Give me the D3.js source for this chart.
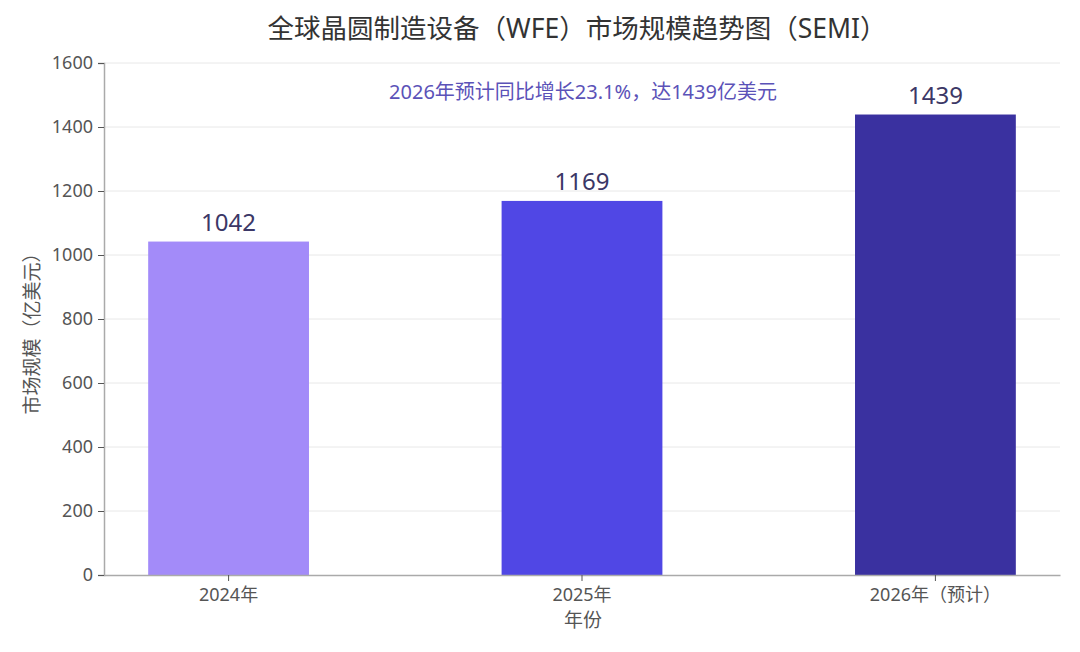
<!DOCTYPE html>
<html>
<head>
<meta charset="utf-8">
<script src="https://cdn.jsdelivr.net/npm/d3@7"></script>
<style>
  body { margin: 0; background: #fff; }
  text { font-family: "Noto Sans", "Noto Sans CJK SC", sans-serif; }
</style>
</head>
<body>
<script>
// chart data
const years = ['2024年', '2025年', '2026年（预计）'];
const values = [1042, 1169, 1439];
const barColors = ['#a38bf9', '#5047e5', '#3a31a0'];
const yTicks = [0, 200, 400, 600, 800, 1000, 1200, 1400, 1600];

const width = 1080, height = 652;
const plotLeft = 104, plotRight = 1060, plotTop = 63, plotBottom = 575;

const svg = d3.select('body')
              .append('svg')
              .attr('width', width)
              .attr('height', height);

const x = d3.scaleBand()
            .domain(years)
            .range([plotLeft, plotRight])
            .paddingInner(0.545)
            .paddingOuter(0.125);

const y = d3.scaleLinear()
            .domain([0, 1600])
            .range([plotBottom, plotTop]);

// grid lines
svg.append('g')
   .selectAll('line')
   .data(yTicks.slice(1))
   .enter()
   .append('line')
   .attr('x1', plotLeft)
   .attr('x2', plotRight)
   .attr('y1', d => y(d))
   .attr('y2', d => y(d))
   .attr('stroke', '#e8e8e8')
   .attr('stroke-width', 1);

// bars
svg.selectAll('rect.bar')
   .data(values)
   .enter()
   .append('rect')
   .attr('class', 'bar')
   .attr('x', (d, i) => x(years[i]))
   .attr('y', d => y(d))
   .attr('width', x.bandwidth())
   .attr('height', d => plotBottom - y(d))
   .attr('fill', (d, i) => barColors[i]);

// value labels
svg.selectAll('text.val')
   .data(values)
   .enter()
   .append('text')
   .attr('class', 'val')
   .attr('x', (d, i) => x(years[i]) + x.bandwidth() / 2)
   .attr('y', d => y(d) - 11)
   .attr('text-anchor', 'middle')
   .attr('font-size', '24px')
   .attr('fill', '#3b3766')
   .text(d => d);

// axes
const yAxis = svg.append('g')
   .attr('transform', `translate(${plotLeft},0)`)
   .call(d3.axisLeft(y).tickValues(yTicks).tickFormat(d3.format('d')).tickSize(6).tickPadding(5));
yAxis.select('.domain').attr('stroke', '#aaa').attr('stroke-width', 1.5);
yAxis.selectAll('.tick line').attr('stroke', '#555');
yAxis.selectAll('.tick text').attr('font-size', '18px').attr('fill', '#555');

const xAxis = svg.append('g')
   .attr('transform', `translate(0,${plotBottom})`)
   .call(d3.axisBottom(x).tickSize(6).tickPadding(7).tickSizeOuter(0));
xAxis.select('.domain').attr('stroke', '#aaa').attr('stroke-width', 1.5);
xAxis.selectAll('.tick line').attr('stroke', '#555');
xAxis.selectAll('.tick text').attr('font-size', '18px').attr('fill', '#555');

// axis titles
svg.append('text')
   .attr('x', 583)
   .attr('y', 627)
   .attr('text-anchor', 'middle')
   .attr('font-size', '19px')
   .attr('fill', '#555')
   .text('年份');

svg.append('text')
   .attr('transform', `translate(39,${(plotTop + plotBottom) / 2 + 10}) rotate(-90)`)
   .attr('text-anchor', 'middle')
   .attr('font-size', '19px')
   .attr('fill', '#555')
   .text('市场规模（亿美元）');

// title
svg.append('text')
   .attr('x', 577)
   .attr('y', 38)
   .attr('text-anchor', 'middle')
   .attr('font-size', '26.5px')
   .attr('fill', '#333')
   .text('全球晶圆制造设备（WFE）市场规模趋势图（SEMI）');

// annotation
svg.append('text')
   .attr('x', 583)
   .attr('y', 99)
   .attr('text-anchor', 'middle')
   .attr('font-size', '20px')
   .attr('fill', '#5b52b8')
   .text('2026年预计同比增长23.1%，达1439亿美元');
</script>
</body>
</html>
